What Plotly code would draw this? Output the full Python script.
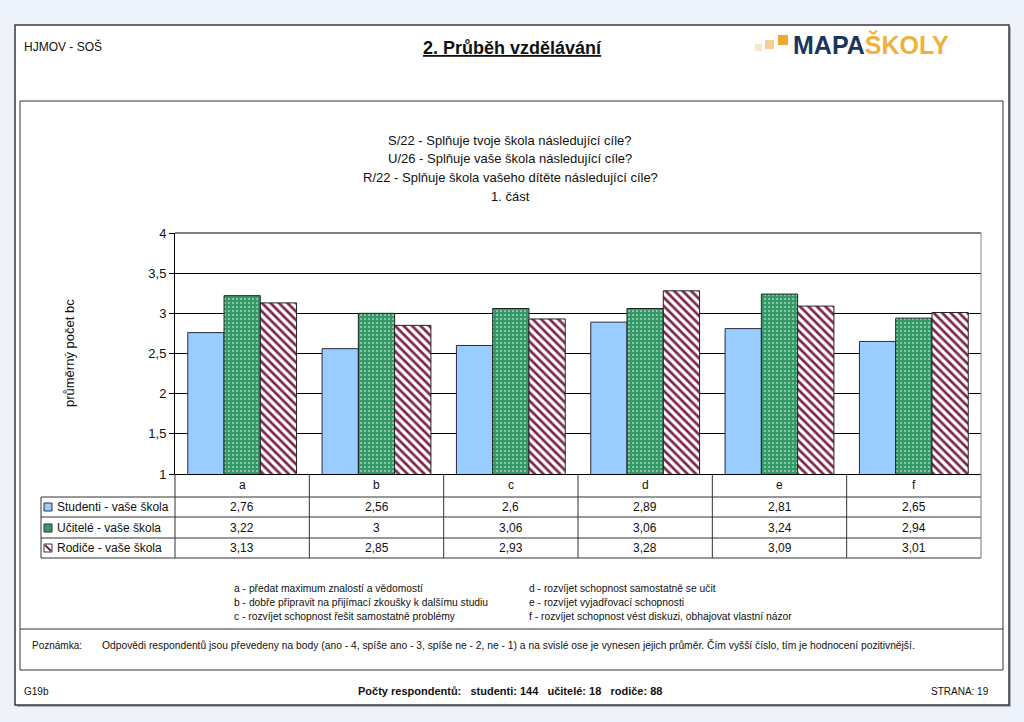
import plotly.graph_objects as go

# ---------------- data ----------------
categories = ["a", "b", "c", "d", "e", "f"]
series_names = ["Studenti - vaše škola", "Učitelé - vaše škola", "Rodiče - vaše škola"]
students = [2.76, 2.56, 2.6, 2.89, 2.81, 2.65]
teachers = [3.22, 3.0, 3.06, 3.06, 3.24, 2.94]
parents = [3.13, 2.85, 2.93, 3.28, 3.09, 3.01]

title_lines = [
    "S/22 - Splňuje tvoje škola následující cíle?",
    "U/26 - Splňuje vaše škola následující cíle?",
    "R/22 - Splňuje škola vašeho dítěte následující cíle?",
    "1. část",
]
footnotes_left = [
    "a - předat maximum znalostí a vědomostí",
    "b - dobře připravit na přijímací zkoušky k dalšímu studiu",
    "c - rozvíjet schopnost řešit samostatně problémy",
]
footnotes_right = [
    "d - rozvíjet schopnost samostatně se učit",
    "e - rozvíjet vyjadřovací schopnosti",
    "f - rozvíjet schopnost vést diskuzi, obhajovat vlastní názor",
]
note_label = "Poznámka:"
note_text = ("Odpovědi respondentů jsou převedeny na body (ano - 4, spíše ano - 3, spíše ne - 2, ne - 1) "
             "a na svislé ose je vynesen jejich průměr. Čím vyšší číslo, tím je hodnocení pozitivnější.")
resp_groups = ["studenti", "učitelé", "rodiče"]
resp_counts = [144, 18, 88]
y_ticks = [1, 1.5, 2, 2.5, 3, 3.5, 4]

# ---------------- layout helpers ----------------
W, H = 1024, 722
FONT = "Liberation Sans, Arial, sans-serif"
def px(x): return x / W
def py(y): return 1 - y / H

PL, PR, PT, PB = 175, 981, 233, 474   # plot area in pixels

C_STU, C_TEA, C_PAR = "#99CCFF", "#339966", "#7E2449"

fig = go.Figure()
fig.add_bar(x=categories, y=students, name=series_names[0], marker=dict(color=C_STU, line=dict(color="#2b2b3a", width=1)))
fig.add_bar(x=categories, y=teachers, name=series_names[1],
            marker=dict(color=C_TEA, line=dict(color="#222222", width=1),
                        pattern=dict(shape=".", fgcolor="white", bgcolor=C_TEA, size=4, solidity=0.12)))
fig.add_bar(x=categories, y=parents, name=series_names[2],
            marker=dict(color="white", line=dict(color="#222222", width=1),
                        pattern=dict(shape="\\", fgcolor=C_PAR, bgcolor="white", size=6, solidity=0.45)))

shapes = []
ann = []

def rect(x0, y0, x1, y1, fill=None, line="#333", lw=1, layer="below"):
    shapes.append(dict(type="rect", xref="paper", yref="paper", x0=px(x0), x1=px(x1), y0=py(y1), y1=py(y0),
                       fillcolor=fill if fill else "rgba(0,0,0,0)", line=dict(color=line, width=lw), layer=layer))

def hline(x0, x1, y, color="#333", lw=1, layer="above"):
    shapes.append(dict(type="line", xref="paper", yref="paper", x0=px(x0), x1=px(x1), y0=py(y), y1=py(y),
                       line=dict(color=color, width=lw), layer=layer))

def vline(x, y0, y1, color="#333", lw=1, layer="above"):
    shapes.append(dict(type="line", xref="paper", yref="paper", x0=px(x), x1=px(x), y0=py(y0), y1=py(y1),
                       line=dict(color=color, width=lw), layer=layer))

def text(x, y, s, size=11, anchor="center", color="#111", angle=0, family=FONT):
    ann.append(dict(xref="paper", yref="paper", x=px(x), y=py(y), text=s, showarrow=False,
                    xanchor=anchor, yanchor="middle", textangle=angle,
                    font=dict(family=family, size=size, color=color)))

# page
rect(17, 27, 1011, 707, fill="#A9AFBA", line="#A9AFBA", lw=0)
rect(15, 25, 1009, 705, fill="white", line="#3a3a3a", lw=1.5)
rect(20, 101, 1003, 670, fill="white", line="#333333", lw=1)
hline(20, 1003, 629, color="#333", lw=1, layer="below")

# header
text(22, 46, "HJMOV - SOŠ", size=12, anchor="left")
text(512, 48, "<b><u>2. Průběh vzdělávání</u></b>", size=18)
rect(755, 44, 762, 51, fill="#F7E6C8", line="#F7E6C8", lw=0)
rect(765, 40, 774, 49, fill="#F6CF8E", line="#F6CF8E", lw=0)
rect(778, 35, 788, 45, fill="#F0A830", line="#F0A830", lw=0)
ann.append(dict(xref="paper", yref="paper", x=px(791), y=py(45), showarrow=False, xanchor="left", yanchor="middle",
                text="<b><span style='color:#1B365D'>MAPA</span><span style='color:#F0B13C'>ŠKOLY</span></b>",
                font=dict(family=FONT, size=25)))

# chart title
for i, t in enumerate(title_lines):
    text(510, 140 + i * 18.7, t, size=13)

# y axis title
text(69, 353, "průměrný počet bc", size=13, angle=-90)

# top gridline and right border of plot area
hline(PL, PR, PT, color="black", lw=1)
vline(PR, PT, PB, color="#888", lw=1)

# data table
n = len(categories)
cw = (PR - PL) / n
rows_y = [507, 528, 548]
row_lines = [497, 517, 538, 558]
for yl in row_lines:
    hline(41, PR, yl, color="#333")
vline(41, 497, 558)
for k in range(n + 1):
    vline(PL + k * cw, PB, 558, color="#333" if k < n else "#777")
for k, c in enumerate(categories):
    text(PL + (k + 0.5) * cw, 485, c, size=12)
for vals, ry in zip([students, teachers, parents], rows_y):
    for k, v in enumerate(vals):
        text(PL + (k + 0.5) * cw, ry, f"{v:g}".replace(".", ","), size=12)
for name, ry in zip(series_names, rows_y):
    text(55, ry, name, size=12, anchor="left")
# legend keys
rect(44, rows_y[0] - 4, 52, rows_y[0] + 4, fill=C_STU, line="#333", lw=1, layer="above")
rect(44, rows_y[1] - 4, 52, rows_y[1] + 4, fill=C_TEA, line="#333", lw=1, layer="above")
rect(44, rows_y[2] - 4, 52, rows_y[2] + 4, fill="white", line="#333", lw=1, layer="above")
shapes.append(dict(type="line", xref="paper", yref="paper", x0=px(45), y0=py(rows_y[2] - 3), x1=px(51), y1=py(rows_y[2] + 3),
                   line=dict(color=C_PAR, width=2), layer="above"))

# footnotes
for i, t in enumerate(footnotes_left):
    text(232, 588 + i * 14, t, size=10.3, anchor="left")
for i, t in enumerate(footnotes_right):
    text(527, 588 + i * 14, t, size=10.3, anchor="left")

# note
text(30, 645, note_label, size=10, anchor="left")
text(100, 645, note_text, size=10.3, anchor="left")

# footer
text(22, 691, "G19b", size=10, anchor="left")
resp = "   ".join(f"{g}: {c}" for g, c in zip(resp_groups, resp_counts))
text(510, 691, f"<b>Počty respondentů:   {resp}</b>", size=11)
text(991, 691, "STRANA: 19", size=10, anchor="right")

fig.update_layout(
    template="none",
    width=W, height=H, autosize=False,
    margin=dict(l=0, r=0, t=0, b=0, pad=0, autoexpand=False),
    paper_bgcolor="#EEF2FA", plot_bgcolor="white",
    separators=", ",
    showlegend=False,
    barmode="group", bargap=0.19, bargroupgap=0,
    font=dict(family=FONT, color="#111"),
    shapes=shapes, annotations=ann,
    xaxis=dict(domain=[px(PL), px(PR)], showticklabels=False, ticks="", showgrid=False, automargin=False,
               showline=True, linecolor="black", linewidth=1, zeroline=False, fixedrange=True),
    yaxis=dict(domain=[py(PB), py(PT)], range=[1, 4], tickvals=y_ticks, ticks="outside", ticklen=5,
               tickcolor="black", showgrid=True, gridcolor="black", gridwidth=1, showline=True, automargin=False,
               linecolor="black", linewidth=1, zeroline=False, tickfont=dict(size=13, family=FONT, color="#111"),
               fixedrange=True),
)

fig.write_html("out.html", config={"displayModeBar": False},
               post_script="document.body.style.margin='0';document.body.style.overflow='hidden';")
